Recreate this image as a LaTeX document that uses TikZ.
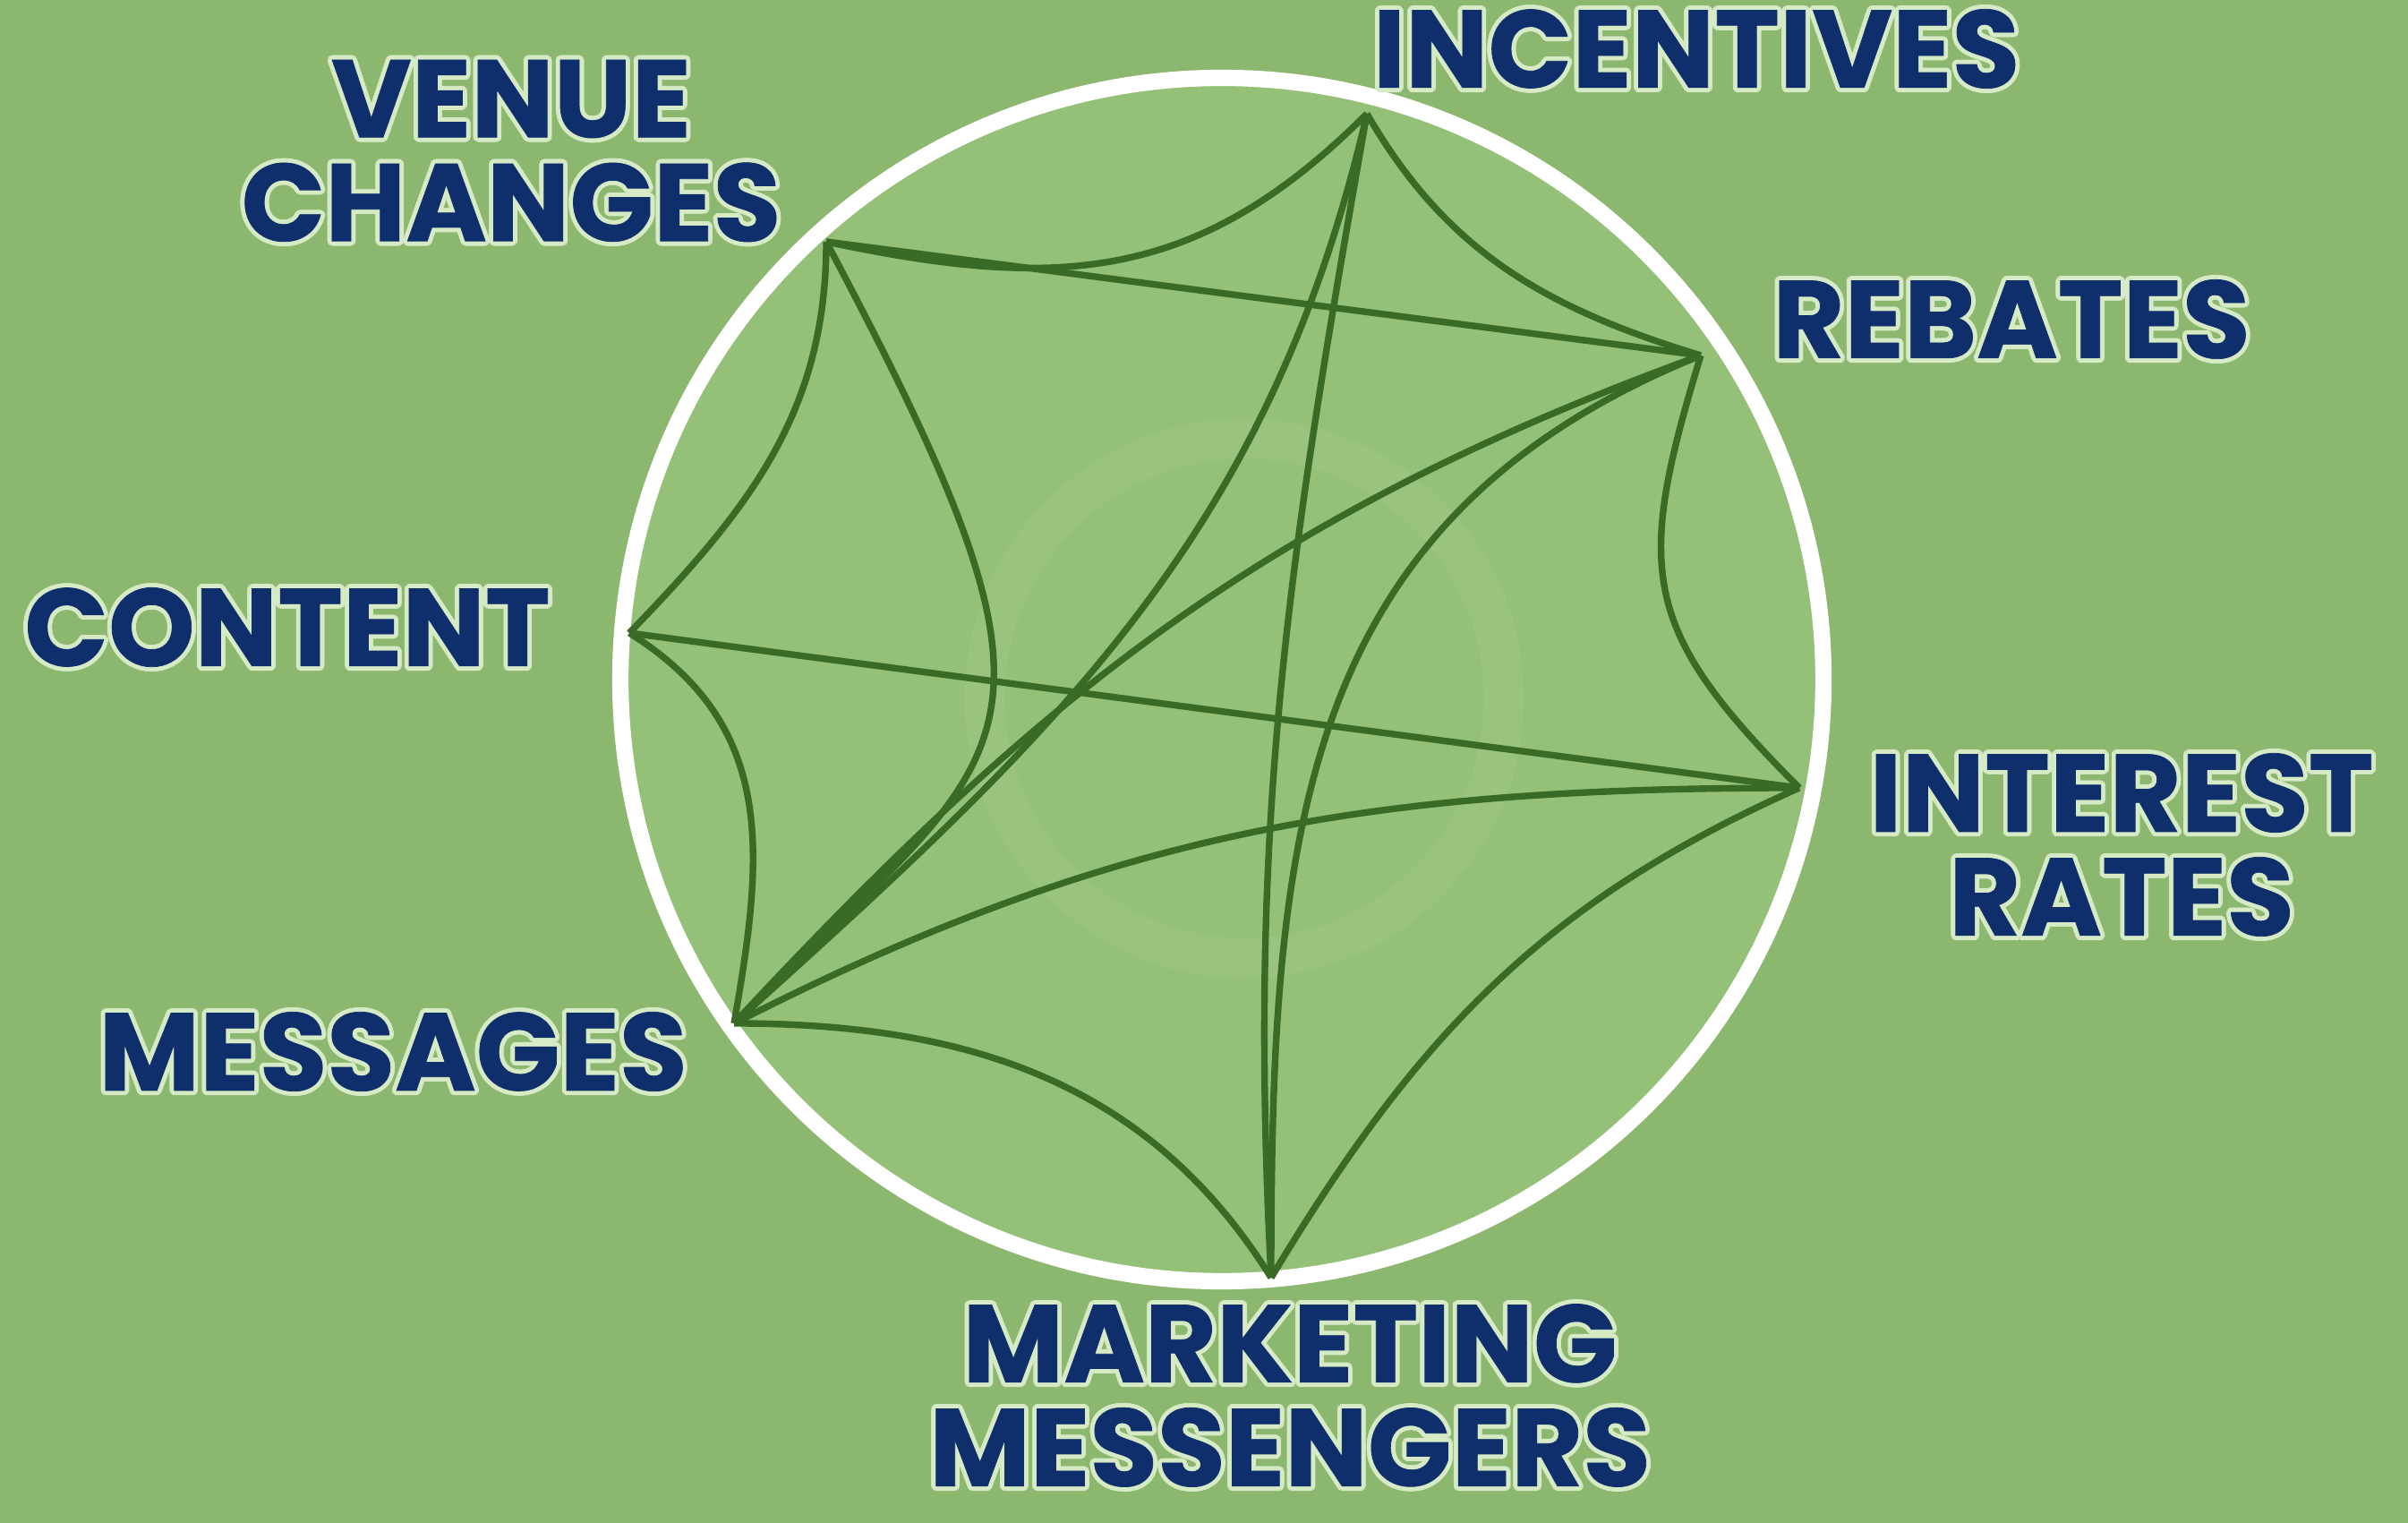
\documentclass[tikz,border=0pt]{standalone}
\usepackage{fontspec}
\setmainfont{Poppins}[BoldFeatures={FakeBold=0.6}]
\usepackage{contour}
\contourlength{1.4pt}
\definecolor{bggreen}{HTML}{8CB76E}
\definecolor{diskgreen}{HTML}{95C078}
\definecolor{linkgreen}{HTML}{3A6B26}
\definecolor{labelblue}{HTML}{0E2F6B}
\definecolor{halo}{HTML}{D6EAC6}
\begin{document}
\begin{tikzpicture}[
    topic/.style={font=\bfseries\fontsize{35}{33}\selectfont, text=labelblue, align=center, inner sep=0pt},
    link/.style={draw=linkgreen, line width=2.1pt},
    ring/.style={draw=white, line width=5.2pt, fill=diskgreen}
]
        \useasboundingbox (0,0) rectangle (26.9,17.01);
        \fill[bggreen] (0,0) rectangle (26.9,17.01);
        % \draw (0, 0) grid (27,17);
        \draw[ring] (13.65, 9.42) circle (6.72);
        \draw[white, opacity=0.05, line width=0.45cm] (13.9, 9.21) circle (2.9);

        \coordinate (incent) at (15.27, 15.74);
        \coordinate (rebate) at (19.00, 13.04);
        \coordinate (interest) at (20.10, 8.21);
        \coordinate (market) at (14.20, 2.74);
        \coordinate (message) at (8.20, 5.58);
        \coordinate (content) at (7.03, 9.94);
        \coordinate (venue) at (9.23, 14.31);

        \node[topic, name=incentives] at (18.95, 16.44) {\contour{halo}{INCENTIVES}};
        \node[topic, name=rebates] at (22.47, 13.42) {\contour{halo}{REBATES}};
        \node[topic, name=rates] at (23.70, 7.55) {\contour{halo}{INTEREST}\\\contour{halo}{RATES}};
        \node[topic, name=marketing] at (14.41, 1.40) {\contour{halo}{MARKETING}\\\contour{halo}{MESSENGERS}};
        \node[topic, name=messages] at (4.39, 5.24) {\contour{halo}{MESSAGES}};
        \node[topic, name=contents] at (3.21, 9.98) {\contour{halo}{CONTENT}};
        \node[topic, name=venues] at (5.71, 15.30) {\contour{halo}{VENUE}\\\contour{halo}{CHANGES}};

        \draw[link] (venue) to[out=-12, in=225, looseness=1.1] (incent);
        \draw[link] (incent) to[out=-60, in=163] (rebate);
        \draw[link] (rebate) to[out=-107, in=135, looseness=1.3] (interest);
        \draw[link] (interest) to[out=204, in=59] (market);
        \draw[link] (market) to[out=122, in=0] (message);
        \draw[link] (message) to[out=80, in=-32, looseness=1.1] (content);
        \draw[link] (content) to[out=46, in=-90] (venue);
        \draw[link] (venue) -- (rebate);
        \draw[link] (content) -- (interest);
        \draw[link] (venue) to[out=-62, in=45, out looseness=1.9, in looseness=1.3] (message);
        \draw[link] (incent) to[out=-100, in=93] (market);
        \draw[link] (incent) to[out=-103, in=42] (message);
        \draw[link] (rebate) to[out=200, in=47] (message);
        \draw[link] (rebate) to[out=202, in=90, looseness=1.1] (market);
        \draw[link] (message) to[out=27, in=180] (interest);
    \end{tikzpicture}
\end{document}
